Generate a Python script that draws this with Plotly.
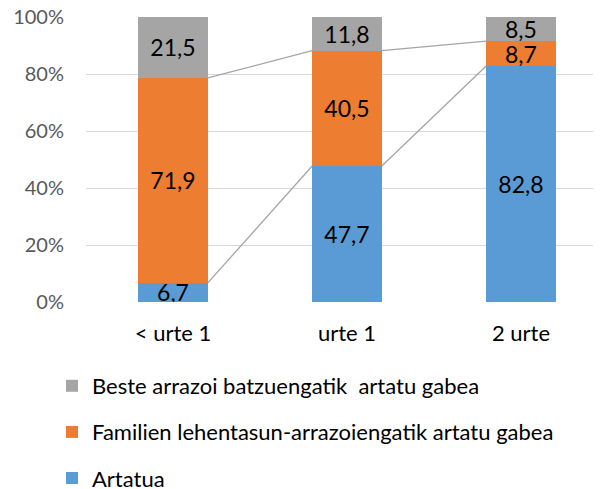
import plotly.graph_objects as go

categories = ["< urte 1", "urte 1", "2 urte"]
artatua = [6.7, 47.7, 82.8]
familien = [71.9, 40.5, 8.7]
beste = [21.5, 11.8, 8.5]
series_names = [
    "Artatua",
    "Familien lehentasun-arrazoiengatik artatu gabea",
    "Beste arrazoi batzuengatik\u00a0 artatu gabea",
]
series_values = [artatua, familien, beste]
series_colors = ["#5B9BD5", "#ED7D31", "#A5A5A5"]
y_tick_values = [0, 20, 40, 60, 80, 100]
y_tick_labels = ["0%", "20%", "40%", "60%", "80%", "100%"]

FONT = "Lato, 'Liberation Sans', sans-serif"
bar_width = 0.4
x_pos = list(range(len(categories)))

fig = go.Figure()
n = len(series_names)
for gi, (name, vals, col) in enumerate(zip(series_names, series_values, series_colors)):
    fig.add_trace(go.Bar(
        x=x_pos, y=vals, name=name, width=bar_width,
        marker=dict(color=col, line=dict(width=0)),
        text=[f"{v:.1f}".replace(".", ",") for v in vals],
        textposition="inside", insidetextanchor="middle",
        constraintext="none", textangle=0,
        textfont=dict(family=FONT, size=23, color="#000000"),
        legendgroup=f"g{gi}", legendrank=n - gi,
    ))

# series lines connecting the tops of the lower two segments
cum = [0.0] * len(categories)
for vals in series_values[:-1]:
    cum = [c + v for c, v in zip(cum, vals)]
    lx, ly = [], []
    for i in range(len(categories) - 1):
        lx += [i + bar_width / 2, i + 1 - bar_width / 2, None]
        ly += [cum[i], cum[i + 1], None]
    fig.add_trace(go.Scatter(
        x=lx, y=ly, mode="lines", line=dict(color="#A5A5A5", width=1.3),
        showlegend=False, hoverinfo="skip",
    ))

W, H = 593, 481
fig.update_layout(
    width=W, height=H,
    barmode="stack",
    plot_bgcolor="white", paper_bgcolor="white",
    margin=dict(l=78, r=0, t=9, b=187, autoexpand=False),
    font=dict(family=FONT, color="#595959"),
    legend=dict(
        orientation="v", traceorder="grouped", tracegroupgap=14.5,
        xref="container", yref="container", x=44 / W, y=1 - 357 / H,
        xanchor="left", yanchor="top",
        font=dict(family=FONT, size=22, color="#000000"),
    ),
    xaxis=dict(
        range=[-0.5, 2.46], tickmode="array", tickvals=x_pos, ticktext=categories,
        showgrid=False, zeroline=False, showline=False,
        tickfont=dict(family=FONT, size=22, color="#000000"),
        ticklabelstandoff=16, ticklabeloverflow="allow",
    ),
    yaxis=dict(
        range=[0, 100], tickmode="array", tickvals=y_tick_values, ticktext=y_tick_labels,
        showgrid=True, gridcolor="#D9D9D9", gridwidth=1.3, zeroline=False, showline=False,
        tickfont=dict(family=FONT, size=20, color="#595959"),
        ticklabelstandoff=21, ticklabeloverflow="allow",
    ),
    showlegend=True,
)

fig.write_html("out.html")
